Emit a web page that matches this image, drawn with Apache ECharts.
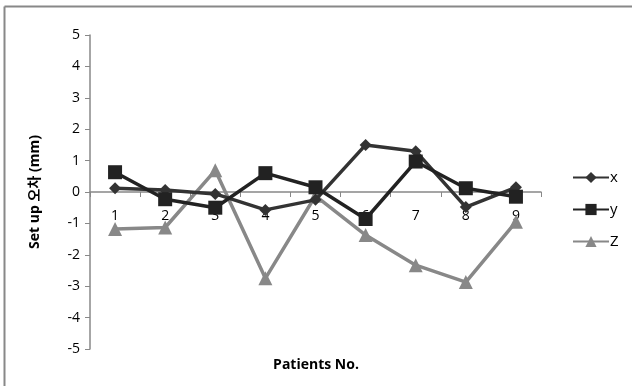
<!DOCTYPE html>
<html><head><meta charset="utf-8">
<script src="https://cdn.jsdelivr.net/npm/echarts@6/dist/echarts.min.js"></script>
<style>html,body{margin:0;padding:0;background:#fff}#c{width:632px;height:386px}</style>
</head><body><div id="c"></div>
<script>
const categories = ['1','2','3','4','5','6','7','8','9'];
const xValues = [0.12, 0.06, -0.06, -0.57, -0.25, 1.5, 1.3, -0.48, 0.15];
const yValues = [0.63, -0.23, -0.5, 0.6, 0.15, -0.86, 0.97, 0.12, -0.15];
const zValues = [-1.18, -1.13, 0.69, -2.75, -0.12, -1.37, -2.33, -2.87, -0.95];
const yTicks = {min: -5, max: 5, interval: 1};

const chart = echarts.init(document.getElementById('c'), null, {renderer: 'canvas'});
const font = '"Open Sans", "Noto Sans CJK KR", sans-serif';
chart.setOption({
  animation: false,
  backgroundColor: '#fff',
  textStyle: {fontFamily: font},
  grid: {left: 90, right: 91, top: 35, bottom: 37},
  title: {text: 'Patients No.', left: 'center', top: 353,
    textStyle: {fontFamily: font, fontSize: 14, fontWeight: 'bold', color: '#000'}},
  legend: {
    orient: 'vertical', left: 567, top: 165, itemWidth: 36, itemHeight: 14, itemGap: 17,
    textStyle: {fontFamily: font, fontSize: 15, color: '#000', padding: [0,0,0,-4]},
    data: ['x','y','Z']
  },
  graphic: [
    {type: 'line', shape: {x1: 4.5, y1: 6.5, x2: 632, y2: 6.5}, style: {stroke: '#888', lineWidth: 2}},
    {type: 'line', shape: {x1: 4.5, y1: 6.5, x2: 4.5, y2: 386}, style: {stroke: '#888', lineWidth: 2}}
  ],
  xAxis: {
    type: 'category', data: categories, boundaryGap: true, position: 'bottom',
    offset: -157,
    axisLine: {onZero: false, lineStyle: {color: '#888', width: 1.5}},
    axisTick: {show: true, interval: 0, length: 5, inside: false, lineStyle: {color: '#888'}},
    axisLabel: {color: '#000', fontSize: 14, margin: 17, fontFamily: font}
  },
  yAxis: {
    type: 'value', min: yTicks.min, max: yTicks.max, interval: yTicks.interval,
    name: 'Set up 오차 (mm)', nameLocation: 'middle', nameGap: 48, nameRotate: 90,
    nameTextStyle: {fontFamily: font, fontSize: 14, fontWeight: 'bold', color: '#000'},
    splitLine: {show: false},
    axisLine: {show: true, lineStyle: {color: '#888', width: 1.5}},
    axisTick: {show: true, length: 5, lineStyle: {color: '#888'}},
    axisLabel: {color: '#000', fontSize: 14, margin: 10, fontFamily: font}
  },
  series: [
    {name: 'x', type: 'line', data: xValues, symbol: 'diamond', symbolSize: 12,
     lineStyle: {color: '#333', width: 3.5}, itemStyle: {color: '#333'}, z: 3},
    {name: 'y', type: 'line', data: yValues, symbol: 'rect', symbolSize: 14,
     lineStyle: {color: '#222', width: 3.5}, itemStyle: {color: '#222'}, z: 4},
    {name: 'Z', type: 'line', data: zValues, symbol: 'triangle', symbolSize: 14,
     lineStyle: {color: '#888', width: 3.5}, itemStyle: {color: '#888'}, z: 2}
  ]
});
</script></body></html>
